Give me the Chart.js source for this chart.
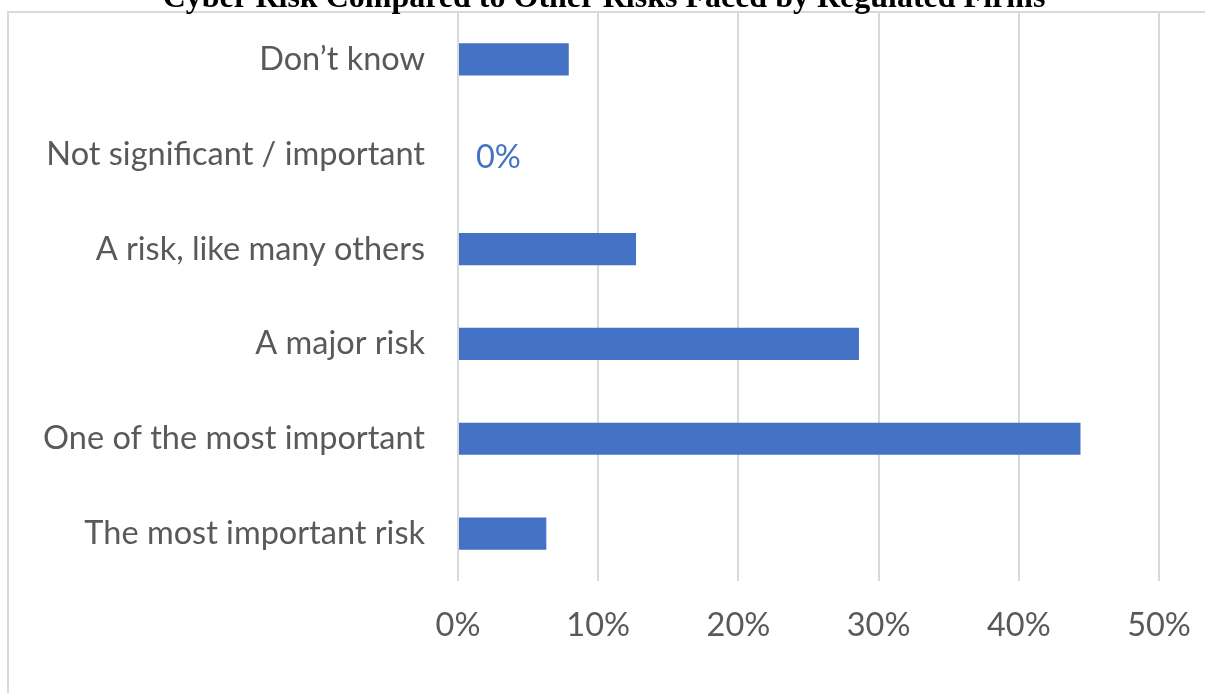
<!DOCTYPE html>
<html>
<head>
<meta charset="utf-8">
<title>Cyber Risk Compared to Other Risks</title>
<script src="https://cdn.jsdelivr.net/npm/chart.js@4"></script>
<style>
    html, body { margin: 0; padding: 0; background: #fff; overflow: hidden; }
    #wrap { position: relative; width: 1205px; height: 693px; }
    #chart { position: absolute; left: 0; top: 0; }
    #frame {
        position: absolute; left: 7px; top: 11px; right: -10px; bottom: -10px;
        border-left: 2px solid #d9d9d9; border-top: 2px solid #d9d9d9;
        pointer-events: none;
    }
    #title {
        position: absolute; left: 0; width: 1208px; top: -22px;
        text-align: center; line-height: 32px;
        font: bold 32px "Liberation Serif", "Times New Roman", serif; color: #000;
        white-space: nowrap;
    }
</style>
</head>
<body>
<div id="wrap">
    <canvas id="chart" width="1205" height="693"></canvas>
    <div id="frame"></div>
    <div id="title">Cyber Risk Compared to Other Risks Faced by Regulated Firms</div>
</div>
<script>
// ===== DATA =====
const categories = [
    'Don\u2019t know',
    'Not significant / important',
    'A risk, like many others',
    'A major risk',
    'One of the most important',
    'The most important risk'
];
const shares = [7.9, 0, 12.7, 28.6, 44.4, 6.3];      // % of respondents
const valueLabels = ['', '0%', '', '', '', ''];      // only the empty bar carries a label
const xTicks = [0, 10, 20, 30, 40, 50];

const BLUE = '#4472C4';
const GREY_TEXT = '#595959';
const FONT = 'Lato, "Open Sans", sans-serif';
const FONT_SIZE = 32.5;

// label drawn at the end of a bar (Excel style "outside end")
const barLabels = {
    id: 'barLabels',
    afterDatasetsDraw(chart) {
        const { ctx } = chart;
        const meta = chart.getDatasetMeta(0);
        ctx.save();
        ctx.fillStyle = BLUE;
        ctx.font = FONT_SIZE + 'px ' + FONT;
        ctx.textAlign = 'left';
        ctx.textBaseline = 'middle';
        meta.data.forEach((bar, i) => {
            if (!valueLabels[i]) return;
            ctx.fillText(valueLabels[i], bar.x + 18, bar.y + 3);
        });
        ctx.restore();
    }
};

// keep the plot area where Excel put it
function noPad(scale) {
    scale.paddingTop = 0;
    scale.paddingBottom = 0;
    scale.paddingLeft = 0;
    scale.paddingRight = 0;
}

new Chart(document.getElementById('chart'), {
    type: 'bar',
    data: {
        labels: categories,
        datasets: [{
            data: shares,
            backgroundColor: BLUE,
            borderWidth: 0,
            barPercentage: 0.34,
            categoryPercentage: 1
        }]
    },
    options: {
        indexAxis: 'y',
        responsive: false,
        animation: false,
        layout: { padding: { top: 12, right: 46, bottom: 0, left: 0 } },
        plugins: {
            legend: { display: false },
            tooltip: { enabled: false }
        },
        scales: {
            x: {
                min: 0,
                max: 50,
                afterBuildTicks: scale => { scale.ticks = xTicks.map(v => ({ value: v })); },
                afterFit: scale => { scale.height = 112; noPad(scale); },
                grid: { color: '#d9d9d9', lineWidth: 2, drawTicks: false },
                border: { display: false },
                ticks: {
                    color: GREY_TEXT,
                    font: { size: FONT_SIZE, family: FONT },
                    padding: 25,
                    maxRotation: 0,
                    callback: v => v + '%'
                }
            },
            y: {
                afterFit: scale => { scale.width = 458; noPad(scale); },
                grid: { display: false, drawTicks: false },
                border: { display: false },
                ticks: {
                    color: GREY_TEXT,
                    font: { size: FONT_SIZE, family: FONT },
                    padding: 33
                }
            }
        }
    },
    plugins: [barLabels]
});
</script>
</body>
</html>
